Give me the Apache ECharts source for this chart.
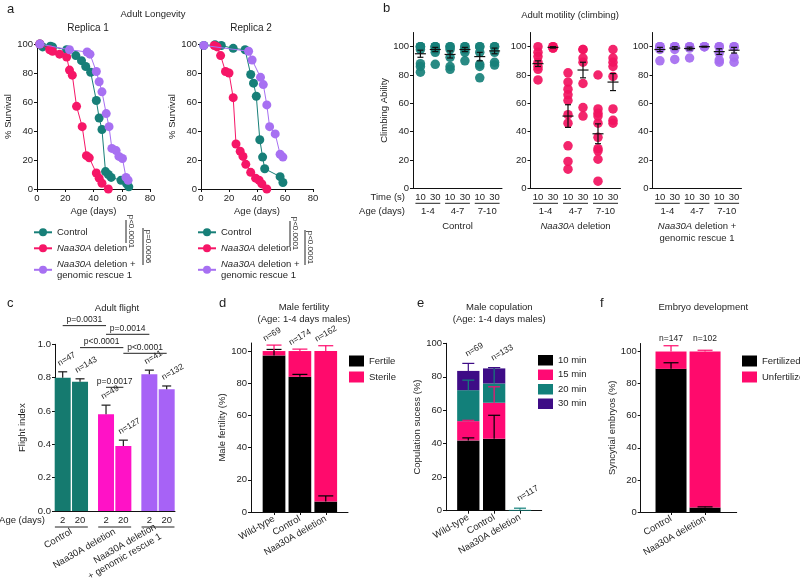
<!DOCTYPE html>
<html><head><meta charset="utf-8">
<script src="https://cdn.jsdelivr.net/npm/echarts@6/dist/echarts.min.js"></script>
<style>html,body{margin:0;padding:0;background:#fff}#c{width:800px;height:585px}</style>
</head><body><div id="c"></div>
<script>
// ================= DATA =================
// Panel a: adult longevity  ([age in days, % survival])
const survivalGenotypes = ['Control', 'Naa30A deletion', 'Naa30A deletion + genomic rescue 1'];
const rep1Control = [[2,100],[4,98],[9.5,98.5],[11,98],[21,96],[27.5,92],[31.5,88.5],[34.5,84.5],[38,80.5],[42,61],[44,49],[46,41],[48.5,12],[50.5,10],[52.5,8],[59.5,6],[63.5,3.5],[65,1.5]];
const rep1Deletion = [[2,100],[9,96],[11,95],[16,93],[21,91],[23,82],[25,78.5],[28,57],[32,43],[35,23],[37,21.5],[42,11],[44,7.5],[46,4],[50.5,0]];
const rep1Rescue = [[2,100],[23,96],[35.5,94.5],[37.5,93],[42,81],[44,74],[46,67],[49,52],[51,43],[53,28],[56,26.5],[58,22.5],[60.5,21],[63,8],[64.5,6]];
const rep2Control = [[2,99],[10,99.5],[14.5,99],[23,97],[31.5,96],[35.5,79],[37.5,73],[39.5,64],[42,34],[44,22],[45.5,14],[56.5,8.5],[58.5,4.5]];
const rep2Deletion = [[9.5,99],[11.5,98],[14,92],[17.5,81],[20,80],[23,63],[25,31],[28,26],[30,22.5],[32,17],[35.5,11.5],[39,7.5],[41.5,6],[43.5,3.5],[47,0]];
const rep2Rescue = [[2,99],[34,95],[36.5,89],[42.5,77],[44.5,72],[47,58],[49,43],[53,38],[56.5,24],[58.5,22]];
const survivalPvalues = [['p<0.0001','p=0.0006'],['p<0.0001','p<0.0001']];

// Panel b: climbing
const climbTimes = ['10', '30'];
const climbAges = ['1-4', '4-7', '7-10'];
const climbGroupLabels = ['Control', '{i|Naa30A} deletion', '{i|Naa30A} deletion +\ngenomic rescue 1'];
const climbTicks = [0, 20, 40, 60, 80, 100];
const climbControl = [[100,100,100,98,88,86,82],[100,100,100,98,96,87.5],[100,100,98,92.5,86,84],[100,100,98,96,90],[100,100,96,87.5,86,78],[100,100,96,89,87]];
const climbControlMean = [95, 98, 94.5, 98, 93, 97];
const climbControlSem = [2.5, 1.5, 2.5, 1.5, 3, 2];
const climbDeletion = [[100,96,93,89,86,84,76.5],[100,100,99,99],[81.5,75,70,66,62,52,46,30,19,13.5],[98,98,92,89,74,57,51],[80,56,53,51,46,36,28,26.5,20.5,5],[98,92,89,86,79,56,48,46]];
const climbDeletionMean = [88, 99.5, 51, 83.5, 38.5, 75];
const climbDeletionSem = [2, 0.5, 8, 5.5, 7, 6];
const climbRescue = [[100,100,100,98,90],[100,100,100,98,91],[100,100,99,92],[100,100,100],[100,100,95.5,90.5,89],[100,100,92.5,89]];
const climbRescueMean = [98, 99, 98.7, 100, 96.5, 97.5];
const climbRescueSem = [1.5, 1, 1, 0.3, 2, 2];

// Panel c: flight
const flightAges = ['2', '20'];
const flightGenotypes = ['Control', 'Naa30A deletion', 'Naa30A deletion\n+ genomic rescue 1'];
const flightMean = [0.80, 0.775, 0.58, 0.39, 0.82, 0.73];
const flightSem = [0.035, 0.018, 0.055, 0.035, 0.025, 0.02];
const flightN = [47, 143, 49, 127, 41, 132];
const flightPairs = [[0, 2], [2, 4], [1, 3], [3, 5], [2, 3]];
const flightPText = ['p=0.0031', 'p=0.0014', 'p<0.0001', 'p<0.0001', 'p=0.0017'];

// Panel d: male fertility
const fertCats = ['Wild-type', 'Control', 'Naa30A deletion'];
const fertFertile = [97.3, 84, 6.5];
const fertFertileSem = [3.7, 1.5, 3.5];
const fertSterile = [2.7, 16, 93.5];
const fertSterileSem = [3.7, 1.2, 3.3];
const fertN = [69, 174, 162];

// Panel e: male copulation
const copCats = ['Wild-type', 'Control', 'Naa30A deletion'];
const copNames = ['10 min', '15 min', '20 min', '30 min'];
const cop10 = [42, 43, 0], cop10Sem = [1.5, 14, 0];
const cop15 = [11.5, 21.5, 0], cop15Sem = [0.5, 9.5, 0];
const cop20 = [18.5, 11.5, 0.5], cop20Sem = [6, 9.5, 1];
const cop30 = [11.5, 9, 0], cop30Sem = [4.5, 0.5, 0];
const copN = [69, 133, 117];

// Panel f: embryo development
const embCats = ['Control', 'Naa30A deletion'];
const embFert = [89.2, 2.8], embFertSem = [3.8, 0.4];
const embUnf = [10.8, 97.2], embUnfSem = [3.6, 0.8];
const embN = [147, 102];
const pctTicks = [0, 20, 40, 60, 80, 100];

// ================= STYLE / LAYOUT =================
const FONT = "'Liberation Sans', Arial, Helvetica, sans-serif";
const TXT = '#1e1e1e', AX = '#111';
const aColors = ['#177f78', '#f61667', '#a770f2'];
const bColors = ['#17807a', '#f2125f', '#a56cf0'];
const cColors = ['#157a6f', '#ff12c6', '#a762f6'];
const PINK = '#ff0a6c';
const copColors = ['#000000', '#ff0a74', '#12807a', '#3e0c86'];
const cBracketY = [1.112, 1.06, 0.98, 0.946, 0.742];

const grids = [
  {left: 37, top: 44, width: 113, height: 145},      // a1
  {left: 201, top: 44, width: 112, height: 145},     // a2
  {left: 413, top: 32.5, width: 89, height: 155.8},  // b1
  {left: 530.5, top: 32.5, width: 90, height: 155.8},// b2
  {left: 652.5, top: 32.5, width: 89, height: 155.8},// b3
  {left: 55, top: 344.3, width: 120, height: 166.7}, // c
  {left: 251, top: 343, width: 97, height: 169},     // d
  {left: 446, top: 343.3, width: 95.7, height: 167.4},// e
  {left: 640.7, top: 343.5, width: 96, height: 168.5} // f
];

const xAxes = [], yAxes = [], series = [], legends = [];
function addX(o) { xAxes.push(o); return xAxes.length - 1; }
function addY(o) { yAxes.push(o); return yAxes.length - 1; }
function axisBase(gridIndex, extra) {
  const base = {
    gridIndex, splitLine: {show: false},
    axisLine: {show: true, onZero: false, lineStyle: {color: AX, width: 1}},
    axisTick: {show: true, length: 3, lineStyle: {color: AX, width: 1}},
    axisLabel: {fontSize: 9.5, color: TXT, margin: 4, fontFamily: FONT},
    nameTextStyle: {fontSize: 9.5, color: TXT, fontFamily: FONT}
  };
  for (const k in extra) {
    const v = extra[k];
    if (base[k] && typeof base[k] === 'object' && !Array.isArray(base[k]) && v && typeof v === 'object' && !Array.isArray(v)) base[k] = Object.assign({}, base[k], v);
    else base[k] = v;
  }
  return base;
}
const italicRich = {i: {fontStyle: 'italic', fontSize: 9.5, fontFamily: FONT, color: TXT}};
function nearestIdx(arr, v) { let b = 0; arr.forEach((p, i) => { if (Math.abs(p - v) < Math.abs(arr[b] - v)) b = i; }); return b; }

// --- renderers ---
function barRender(w) {
  return function (params, api) {
    const x = api.value(0), y0 = api.value(1), y1 = api.value(2);
    const a = api.coord([x, y0]), b = api.coord([x, y1]);
    const h = a[1] - b[1];
    if (!(h > 0.01)) return null;
    return {type: 'rect', shape: {x: a[0] - w / 2, y: b[1], width: w, height: h}, style: {fill: api.visual('color')}};
  };
}
function errRender(capHalf, color) {
  return function (params, api) {
    const x = api.value(0), t = api.value(1), e = api.value(2);
    if (!(e > 0)) return null;
    const p0 = api.coord([x, t]), p1 = api.coord([x, t + e]);
    const st = {stroke: color, lineWidth: 1.2, fill: null};
    return {type: 'group', children: [
      {type: 'line', shape: {x1: p0[0], y1: p0[1], x2: p1[0], y2: p1[1]}, style: st},
      {type: 'line', shape: {x1: p1[0] - capHalf, y1: p1[1], x2: p1[0] + capHalf, y2: p1[1]}, style: st}
    ]};
  };
}
function meanSemRender(params, api) {
  const x = api.value(0), m = api.value(1), s = api.value(2);
  const pm = api.coord([x, m]), pt = api.coord([x, m + s]), pb = api.coord([x, m - s]);
  const st = {stroke: '#111', lineWidth: 1.2, fill: null};
  return {type: 'group', children: [
    {type: 'line', shape: {x1: pm[0] - 5.5, y1: pm[1], x2: pm[0] + 5.5, y2: pm[1]}, style: st},
    {type: 'line', shape: {x1: pt[0], y1: pt[1], x2: pb[0], y2: pb[1]}, style: st},
    {type: 'line', shape: {x1: pt[0] - 3, y1: pt[1], x2: pt[0] + 3, y2: pt[1]}, style: st},
    {type: 'line', shape: {x1: pb[0] - 3, y1: pb[1], x2: pb[0] + 3, y2: pb[1]}, style: st}
  ]};
}
function nRender(dx, dy, rotate) {
  return function (params, api) {
    const p = api.coord([api.value(0), api.value(1)]);
    return {type: 'text', x: p[0] + dx, y: p[1] + dy, rotation: rotate ? Math.PI / 6 : 0,
      style: {text: 'n=' + api.value(2), fontSize: 8.5, fontFamily: FONT, fill: TXT,
        align: rotate ? 'left' : 'center', verticalAlign: rotate ? 'bottom' : 'middle',
        textAlign: rotate ? 'left' : 'center', textVerticalAlign: rotate ? 'bottom' : 'middle'}};
  };
}

// ================= PANEL a =================
const legendFmtA = n => n === survivalGenotypes[0] ? n : (n === survivalGenotypes[1] ? '{i|Naa30A} deletion' : '{i|Naa30A} deletion +\ngenomic rescue 1');
const aData = [[rep1Control, rep1Deletion, rep1Rescue], [rep2Control, rep2Deletion, rep2Rescue]];
aData.forEach((reps, r) => {
  const xi = addX(axisBase(r, {type: 'value', min: 0, max: 80, interval: 20, name: 'Age (days)', nameLocation: 'middle', nameGap: 17}));
  const yi = addY(axisBase(r, {type: 'value', min: 0, max: 100, interval: 20, name: '% Survival', nameLocation: 'middle', nameGap: 20}));
  reps.forEach((d, k) => series.push({type: 'line', name: survivalGenotypes[k], xAxisIndex: xi, yAxisIndex: yi, data: d,
    symbol: 'circle', symbolSize: 9, clip: false, lineStyle: {width: 1, color: aColors[k]}, itemStyle: {color: aColors[k]}, z: 2 + k}));
  legends.push({data: survivalGenotypes, left: r === 0 ? 28 : 192, top: 221.8, orient: 'vertical', itemWidth: 18, itemHeight: 10, itemGap: 5,
    selectedMode: false, formatter: legendFmtA,
    textStyle: {fontSize: 9.5, color: TXT, fontFamily: FONT, lineHeight: 11, rich: italicRich}});
});

// ================= PANEL b =================
const bCats = climbAges.flatMap(a => climbTimes.map(t => a + '|' + t));
const bData = [climbControl, climbDeletion, climbRescue];
const bMeans = [climbControlMean, climbDeletionMean, climbRescueMean];
const bSems = [climbControlSem, climbDeletionSem, climbRescueSem];
const bXIdx = [], bYIdx = [];
[0, 1, 2].forEach(g => {
  const gi = 2 + g;
  const xi = addX(axisBase(gi, {type: 'category', data: bCats, position: 'bottom', axisTick: {show: false},
    axisLabel: {interval: 0, formatter: v => v.split('|')[1]}}));
  addX(axisBase(gi, {type: 'category', data: climbAges, position: 'bottom', axisLine: {show: false}, axisTick: {show: false},
    axisLabel: {interval: 0, margin: 18}, name: climbGroupLabels[g], nameLocation: 'middle', nameGap: 32,
    nameTextStyle: {lineHeight: 12, align: 'center', rich: italicRich}}));
  const yi = addY(axisBase(gi, {type: 'value', min: 0, max: 110, axisLabel: {customValues: climbTicks}, axisTick: {customValues: climbTicks},
    name: g === 0 ? 'Climbing Ability' : '', nameLocation: 'middle', nameGap: 21}));
  bXIdx.push(xi); bYIdx.push(yi);
  series.push({type: 'scatter', xAxisIndex: xi, yAxisIndex: yi, symbolSize: 9.5, clip: false, z: 2,
    itemStyle: {color: bColors[g], opacity: 0.92},
    data: bData[g].flatMap((vals, i) => vals.map(v => [i, v]))});
  series.push({type: 'custom', xAxisIndex: xi, yAxisIndex: yi, renderItem: meanSemRender, encode: {x: 0, y: 1}, z: 5, clip: false,
    data: bMeans[g].map((m, i) => [i, m, bSems[g][i]])});
});

// ================= PANEL c =================
const flightPos = flightMean.map((_, i) => Math.floor(i / 2) * 2.5 + (i % 2));
const flightGroupPos = flightGenotypes.map((_, g) => g * 2.5 + 0.5);
const cX = addX(axisBase(5, {type: 'value', min: -0.444, max: 6.48, position: 'bottom', axisTick: {show: false},
  axisLabel: {customValues: flightPos, formatter: v => flightAges[nearestIdx(flightPos, v) % 2]}}));
addX(axisBase(5, {type: 'value', min: -0.444, max: 6.48, position: 'bottom', axisLine: {show: false}, axisTick: {show: false},
  axisLabel: {customValues: flightGroupPos, rotate: 30, margin: 20, lineHeight: 11, formatter: v => flightGenotypes[nearestIdx(flightGroupPos, v)]}}));
const cY = addY(axisBase(5, {type: 'value', min: 0, max: 1, interval: 0.2, axisLabel: {formatter: v => v.toFixed(1)},
  name: 'Flight index', nameLocation: 'middle', nameGap: 28}));
series.push({type: 'custom', xAxisIndex: cX, yAxisIndex: cY, renderItem: barRender(16), encode: {x: 0, y: [1, 2]}, z: 2,
  data: flightMean.map((v, i) => ({value: [flightPos[i], 0, v], itemStyle: {color: cColors[Math.floor(i / 2)]}}))});
series.push({type: 'custom', xAxisIndex: cX, yAxisIndex: cY, renderItem: errRender(4.5, '#1a1a1a'), encode: {x: 0, y: 1}, z: 4,
  data: flightMean.map((v, i) => [flightPos[i], v, flightSem[i]])});
series.push({type: 'custom', xAxisIndex: cX, yAxisIndex: cY, renderItem: nRender(-2, -4, true), encode: {x: 0, y: 1}, z: 5,
  data: flightMean.map((v, i) => [flightPos[i], v + flightSem[i], flightN[i]])});

// ================= PANELS d, e, f =================
function stackedPanel(gi, cats, xMin, xMax, yMax, segs, nVals, barW, capHalf, rotN, ndx, ndy, yName, nameGap) {
  const pos = cats.map((_, i) => i + 1);
  const xi = addX(axisBase(gi, {type: 'value', min: xMin, max: xMax, position: 'bottom', axisTick: {customValues: pos},
    axisLabel: {customValues: pos, rotate: 30, margin: 6, formatter: v => cats[Math.round(v) - 1]}}));
  const yi = addY(axisBase(gi, {type: 'value', min: 0, max: yMax, axisLabel: {customValues: pctTicks}, axisTick: {customValues: pctTicks},
    name: yName, nameLocation: 'middle', nameGap}));
  const base = cats.map(() => 0), tops = cats.map(() => 0);
  segs.forEach(s => {
    series.push({type: 'custom', name: s.name, xAxisIndex: xi, yAxisIndex: yi, renderItem: barRender(barW), encode: {x: 0, y: [1, 2]},
      itemStyle: {color: s.color}, z: 2, data: pos.map((p, i) => [p, base[i], base[i] + s.values[i]])});
    series.push({type: 'custom', xAxisIndex: xi, yAxisIndex: yi, renderItem: errRender(capHalf, s.color), encode: {x: 0, y: 1}, z: 4,
      data: pos.map((p, i) => [p, base[i] + s.values[i], s.sems[i]])});
    pos.forEach((p, i) => { tops[i] = Math.max(tops[i], base[i] + s.values[i] + s.sems[i]); base[i] += s.values[i]; });
  });
  series.push({type: 'custom', xAxisIndex: xi, yAxisIndex: yi, renderItem: nRender(ndx, ndy, rotN), encode: {x: 0, y: 1}, z: 5,
    data: pos.map((p, i) => [p, rotN ? tops[i] : yMax, nVals[i]])});
  return {xi, yi};
}
stackedPanel(6, fertCats, 0.11, 3.86, 105, [
  {name: 'Fertile', values: fertFertile, sems: fertFertileSem, color: '#000000'},
  {name: 'Sterile', values: fertSterile, sems: fertSterileSem, color: PINK}
], fertN, 22.7, 7.5, true, -8, -2, 'Male fertility (%)', 20);
stackedPanel(7, copCats, 0.137, 3.84, 100, [
  {name: copNames[0], values: cop10, sems: cop10Sem, color: copColors[0]},
  {name: copNames[1], values: cop15, sems: cop15Sem, color: copColors[1]},
  {name: copNames[2], values: cop20, sems: cop20Sem, color: copColors[2]},
  {name: copNames[3], values: cop30, sems: cop30Sem, color: copColors[3]}
], copN, 22.3, 6, true, 0, -5, 'Copulation sucess (%)', 21);
stackedPanel(8, embCats, 0.109, 2.93, 105, [
  {name: 'Fertilized', values: embFert, sems: embFertSem, color: '#000000'},
  {name: 'Unfertilized', values: embUnf, sems: embUnfSem, color: PINK}
], embN, 31, 7.5, false, 0, -4.5, 'Syncytial embryos (%)', 23);

const legStyle = {orient: 'vertical', icon: 'rect', itemWidth: 15, selectedMode: false, textStyle: {fontSize: 9.5, color: TXT, fontFamily: FONT}};
legends.push(Object.assign({data: ['Fertile', 'Sterile'], left: 344, top: 350.5, itemHeight: 11, itemGap: 5}, legStyle));
legends.push(Object.assign({data: copNames, left: 533, top: 350, itemHeight: 10.5, itemGap: 4}, legStyle));
legends.push(Object.assign({data: ['Fertilized', 'Unfertilized'], left: 737, top: 350.5, itemHeight: 11, itemGap: 5}, legStyle));

// ================= RENDER =================
const chart = echarts.init(document.getElementById('c'), null, {renderer: 'canvas', width: 800, height: 585});
chart.setOption({
  animation: false,
  backgroundColor: '#ffffff',
  textStyle: {fontFamily: FONT, color: TXT},
  grid: grids, xAxis: xAxes, yAxis: yAxes, series, legend: legends
});

// ---------- annotations ----------
const G = [];
function T(text, x, y, o) {
  o = o || {};
  G.push({type: 'text', x, y, rotation: o.rot || 0, z: 10,
    style: {text, fontSize: o.fs || 9.5, fontFamily: FONT, fill: TXT, fontStyle: o.italic ? 'italic' : 'normal',
      align: o.align || 'center', verticalAlign: o.va || 'middle', textAlign: o.align || 'center', textVerticalAlign: o.va || 'middle'}});
}
function L(x1, y1, x2, y2, w) { G.push({type: 'line', z: 10, shape: {x1, y1, x2, y2}, style: {stroke: '#222', lineWidth: w || 1}}); }

// titles & panel letters
T('a', 7, 9, {fs: 13, align: 'left'});
T('Adult Longevity', 153, 14, {fs: 9.5});
T('Replica 1', 88, 28, {fs: 10});
T('Replica 2', 251, 28, {fs: 10});
T('b', 383, 8, {fs: 13, align: 'left'});
T('Adult motility (climbing)', 570, 15, {fs: 9.5});
T('Time (s)', 405, 197, {align: 'right'});
T('Age (days)', 405, 211, {align: 'right'});
T('c', 7, 303, {fs: 13, align: 'left'});
T('Adult flight', 117, 308.5, {fs: 9.5});
T('Age (days)', 45, 520.7, {align: 'right'});
T('d', 219, 303, {fs: 13, align: 'left'});
T('Male fertility', 304, 307.3);
T('(Age: 1-4 days males)', 304, 319.3);
T('e', 417, 303, {fs: 13, align: 'left'});
T('Male copulation', 499.3, 307.3);
T('(Age: 1-4 days males)', 499.3, 319.3);
T('f', 600, 303, {fs: 13, align: 'left'});
T('Embryo development', 703.3, 307.3);

// panel a p-value bars
const aP = [[[126, 220, 243], [143, 228, 265]], [[290, 221, 246], [305, 230, 265]]];
aP.forEach((rp, r) => rp.forEach((b, k) => {
  L(b[0], b[1], b[0], b[2], 1);
  T(survivalPvalues[r][k], b[0] + 5, (b[1] + b[2]) / 2, {fs: 8, rot: -Math.PI / 2});
}));

// panel b underlines
const px = (xi, v) => chart.convertToPixel({xAxisIndex: xi}, v);
const py = (yi, v) => chart.convertToPixel({yAxisIndex: yi}, v);
bXIdx.forEach((xi, g) => {
  const y = py(bYIdx[g], 0) + 15;
  climbAges.forEach((a, k) => L(px(xi, 2 * k) - 5, y, px(xi, 2 * k + 1) + 5, y, 1));
});
// panel c underlines and brackets
{
  const y = py(cY, 0) + 16;
  flightGenotypes.forEach((gname, g) => L(px(cX, flightPos[2 * g]) - 7.8, y, px(cX, flightPos[2 * g + 1]) + 7.8, y, 1));
  flightPairs.forEach((pr, k) => {
    const yy = py(cY, cBracketY[k]);
    const x1 = px(cX, flightPos[pr[0]]), x2 = px(cX, flightPos[pr[1]]);
    L(x1, yy, x2, yy, 1);
    T(flightPText[k], (x1 + x2) / 2, yy - 5.5, {fs: 8.5});
  });
}
chart.setOption({graphic: [{elements: G}]});
</script>
</body></html>
